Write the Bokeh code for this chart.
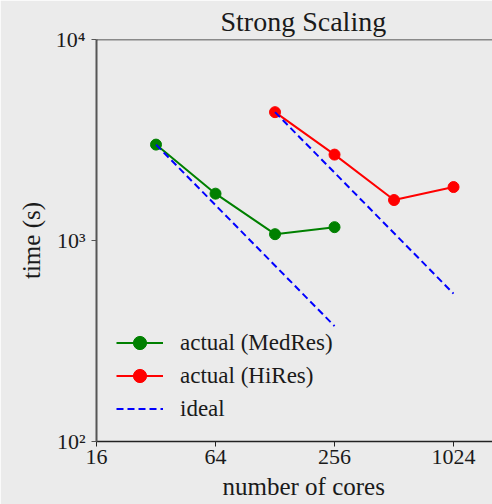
from bokeh.plotting import figure
from bokeh.models import (FixedTicker, CustomJSTickFormatter, Span, Title,
                          Legend, LegendItem)
from bokeh.embed import file_html
from bokeh.resources import INLINE

# ---- data ----
cores_med = [32, 64, 128, 256]
time_med = [3000, 1710, 1075, 1165]
cores_hi = [128, 256, 512, 1024]
time_hi = [4350, 2675, 1590, 1845]
ideal_med_x = [32, 256]
ideal_med_y = [3000, 375]
ideal_hi_x = [128, 1024]
ideal_hi_y = [4350, 544]
x_ticks = [16, 64, 256, 1024]
y_ticks = [100, 1000, 10000]

BG = "#ebebeb"
FONT = "Liberation Serif"
TXT = "#1a1a1a"

p = figure(width=492, height=504, x_axis_type="log", y_axis_type="log",
           x_range=(16, 1612), y_range=(100, 10000),
           output_backend="svg", toolbar_location=None,
           min_border_left=96, min_border_right=0,
           min_border_top=38, min_border_bottom=62)
p.background_fill_color = BG
p.border_fill_color = BG
p.outline_line_color = None
p.grid.visible = False

# axes
p.xaxis.ticker = FixedTicker(ticks=x_ticks, minor_ticks=[])
p.yaxis.ticker = FixedTicker(ticks=y_ticks, minor_ticks=[])
p.xaxis.formatter = CustomJSTickFormatter(code="return String(Math.round(tick));")
p.yaxis.formatter = CustomJSTickFormatter(code="""
const sup = {'0':'\u2070','1':'\u00b9','2':'\u00b2','3':'\u00b3','4':'\u2074',
             '5':'\u2075','6':'\u2076','7':'\u2077','8':'\u2078','9':'\u2079'};
const e = Math.round(Math.log10(tick));
return '10' + String(e).split('').map(c => sup[c]).join('');
""")
for ax in (p.xaxis, p.yaxis):
    ax.major_tick_in = 0
    ax.major_tick_out = 5
    ax.minor_tick_line_color = None
    ax.major_label_text_font = FONT
    ax.major_label_text_font_size = "22px"
    ax.major_label_text_color = TXT
p.xaxis.axis_line_color = "#222222"
p.xaxis.axis_line_width = 1.5
p.xaxis.major_tick_line_color = "#222222"
p.xaxis.major_label_standoff = 3
p.yaxis.axis_line_color = "#555555"
p.yaxis.axis_line_width = 2
p.yaxis.major_tick_line_color = "#555555"
p.yaxis.major_label_standoff = 6

p.yaxis.axis_label = "time (s)"
p.yaxis.axis_label_text_font = FONT
p.yaxis.axis_label_text_font_size = "25px"
p.yaxis.axis_label_text_font_style = "normal"
p.yaxis.axis_label_text_color = TXT
p.yaxis.axis_label_standoff = 8

# top spine
p.add_layout(Span(location=10000, dimension="width", line_color="#222222", line_width=1.5))

# data
r_med_l = p.line(cores_med, time_med, line_color="green", line_width=2)
r_med_s = p.scatter(cores_med, time_med, size=11, color="green")
r_hi_l = p.line(cores_hi, time_hi, line_color="red", line_width=2)
r_hi_s = p.scatter(cores_hi, time_hi, size=11, color="red")
r_id1 = p.line(ideal_med_x, ideal_med_y, line_color="blue", line_width=2, line_dash="7 4")
r_id2 = p.line(ideal_hi_x, ideal_hi_y, line_color="blue", line_width=2, line_dash="7 4")

legend = Legend(items=[
    LegendItem(label="actual (MedRes)", renderers=[r_med_l, r_med_s]),
    LegendItem(label="actual (HiRes)", renderers=[r_hi_l, r_hi_s]),
    LegendItem(label="ideal", renderers=[r_id1]),
], location=(20, 16))
legend.background_fill_alpha = 0
legend.border_line_color = None
legend.padding = 5
legend.spacing = 0
legend.glyph_width = 47
legend.glyph_height = 33
legend.label_height = 33
legend.label_standoff = 17
legend.label_text_font = FONT
legend.label_text_font_size = "23px"
legend.label_text_color = TXT
p.add_layout(legend)

# title and x label (the original frame extends past the right edge,
# so they are placed by offset from the frame's left edge)
p.title = Title(text="Strong Scaling", align="left", offset=124,
                text_font=FONT, text_font_size="28px", text_font_style="normal",
                text_color=TXT, standoff=6)
p.add_layout(Title(text="number of cores", align="left", offset=126,
                   text_font=FONT, text_font_size="25px", text_font_style="normal",
                   text_color=TXT, standoff=9), "below")

open("out.html", "w").write(file_html(p, INLINE))
